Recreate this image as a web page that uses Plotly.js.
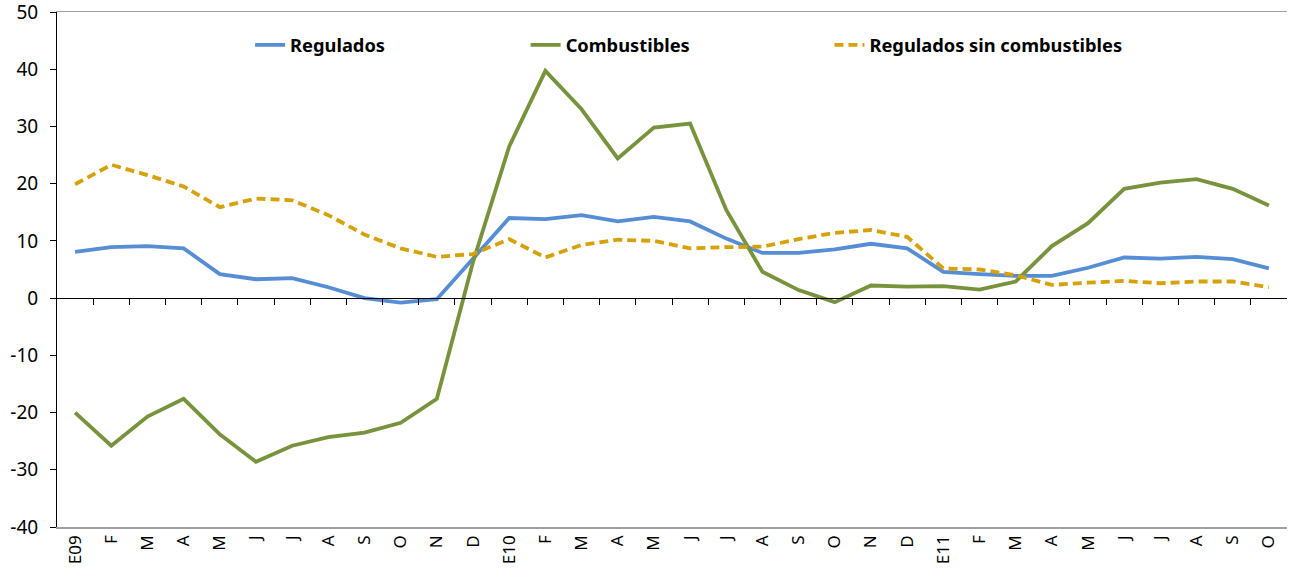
<!DOCTYPE html>
<html>
<head>
<meta charset="utf-8">
<script src="https://cdn.plot.ly/plotly-3.0.1.min.js"></script>
<style>html,body{margin:0;padding:0;background:#fff;}#chart{width:1291px;height:577px;}</style>
</head>
<body>
<div id="chart"></div>
<script>
const months = ["E09","F","M","A","M","J","J","A","S","O","N","D",
                "E10","F","M","A","M","J","J","A","S","O","N","D",
                "E11","F","M","A","M","J","J","A","S","O"];
const regulados = [8.1,8.9,9.1,8.7,4.2,3.3,3.5,1.9,0.0,-0.8,-0.2,7.0,
                   14.0,13.8,14.5,13.4,14.2,13.4,10.4,7.9,7.9,8.5,9.5,8.7,
                   4.6,4.2,3.9,3.9,5.3,7.1,6.9,7.2,6.8,5.2];
const combustibles = [-20.0,-25.8,-20.7,-17.6,-23.8,-28.6,-25.8,-24.3,-23.5,-21.8,-17.6,6.3,
                      26.5,39.7,33.0,24.4,29.8,30.5,15.4,4.6,1.4,-0.7,2.2,2.0,
                      2.1,1.5,2.9,9.1,13.1,19.1,20.2,20.8,19.1,16.2];
const reguladosSinComb = [19.9,23.3,21.5,19.5,15.9,17.4,17.1,14.5,11.1,8.7,7.2,7.7,
                          10.3,7.1,9.3,10.2,10.0,8.7,8.9,9.0,10.3,11.4,11.9,10.7,
                          5.2,5.0,4.0,2.3,2.7,3.0,2.6,2.9,2.9,1.9];
const seriesNames = ["Regulados","Combustibles","Regulados sin combustibles"];
const yTicks = [-40,-30,-20,-10,0,10,20,30,40,50];

const idx = months.map((_, i) => i);
const bounds = months.slice(1).map((_, i) => i + 0.5);
const yMin = -40, yMax = 50;
const FONT = '"Noto Sans", "Open Sans", sans-serif';

const traces = [
  {x: idx, y: regulados, name: seriesNames[0], mode: 'lines', legend: 'legend',
   line: {color: '#558ed5', width: 3.8}},
  {x: idx, y: combustibles, name: seriesNames[1], mode: 'lines', legend: 'legend2',
   line: {color: '#77933c', width: 3.8}},
  {x: idx, y: reguladosSinComb, name: seriesNames[2], mode: 'lines', legend: 'legend3',
   line: {color: '#d6a10a', width: 3.8, dash: '9px,5px'}},
  {x: idx, y: idx.map(() => null), xaxis: 'x2', mode: 'none', showlegend: false, hoverinfo: 'skip'}
];

const legendBase = {orientation: 'h', yanchor: 'middle', y: 0.936, xanchor: 'left',
  font: {family: FONT, size: 18.3, color: '#000', weight: 'bold'}, bgcolor: 'rgba(0,0,0,0)',
  itemwidth: 30, tracegroupgap: 0};

const layout = {
  width: 1291, height: 577,
  margin: {l: 57, r: 4, t: 12, b: 50},
  paper_bgcolor: '#fff', plot_bgcolor: '#fff',
  font: {family: FONT, size: 16, color: '#000'},
  showlegend: true,
  legend: Object.assign({}, legendBase, {x: 0.157}),
  legend2: Object.assign({}, legendBase, {x: 0.381}),
  legend3: Object.assign({}, legendBase, {x: 0.628}),
  xaxis: {
    range: [-0.5, months.length - 0.5],
    tickmode: 'array', tickvals: idx, ticktext: months,
    tickangle: -90, ticks: '', showgrid: false, zeroline: false,
    showline: true, linecolor: '#a0a0a0', linewidth: 1.5, mirror: true,
    tickfont: {family: FONT, size: 17, color: '#000'}
  },
  xaxis2: {
    overlaying: 'x', anchor: 'free', position: (0 - yMin) / (yMax - yMin),
    range: [-0.5, months.length - 0.5],
    tickmode: 'array', tickvals: bounds, ticks: 'outside', ticklen: 6, tickcolor: '#000', tickwidth: 1,
    showticklabels: false, showgrid: false, zeroline: false,
    showline: true, linecolor: '#000', linewidth: 1
  },
  yaxis: {
    range: [yMin, yMax], tickmode: 'array', tickvals: yTicks, ticktext: yTicks.map(String),
    showgrid: false, zeroline: false,
    showline: true, linecolor: '#000', linewidth: 1,
    ticks: 'outside', ticklen: 6, tickcolor: '#000', ticklabelstandoff: 8,
    ticklabeloverflow: 'allow',
    tickfont: {family: FONT, size: 19, color: '#000'}
  }
};

Plotly.newPlot('chart', traces, layout, {displayModeBar: false, staticPlot: true});
</script>
</body>
</html>
